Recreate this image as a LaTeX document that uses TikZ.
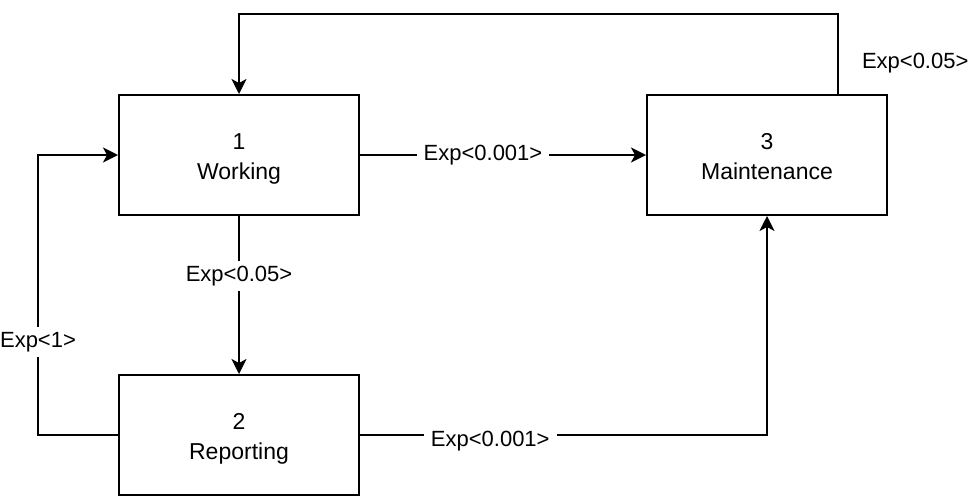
\documentclass[tikz,border=0pt]{standalone}
\usepackage{fontspec}
\setmainfont{Liberation Sans}
\usetikzlibrary{positioning}
\usetikzlibrary{arrows.meta}

\tikzset{
  state/.style={draw, line width=2pt, minimum width=240pt, minimum height=120pt,
    align=center, font=\fontsize{23}{30}\selectfont,
    execute at begin node={\rule{0pt}{57pt}},
    execute at end node={\rule[-9pt]{0pt}{0pt}}},
  flow/.style={line width=2pt, -{Stealth[length=15pt, width=15pt, inset=4pt]}},
  rate/.style={fill=white, inner xsep=7pt, inner ysep=5pt, font=\fontsize{22}{26}\selectfont}
}

\begin{document}
\begin{tikzpicture}[x=1pt, y=-1pt]
%\draw[help lines] (0,0) grid (980,496);
\useasboundingbox (0,0) rectangle (980,496);

\node [state] (work) at (239,155) {1\\Working};
\node [state] (maint) at (767,155) {3\\Maintenance};
\node [state] (rep) at (239,435) {2\\Reporting};

\draw [flow] (work) -- node [rate, pos=0.43] {Exp<0.001>} (maint);
\draw [flow] ([xshift=71pt]maint.north) -- ++(0,-80)
  node [pos=0.39, right=16pt, rate, fill=none] {Exp<0.05>} -| (work.north);
\draw [flow] (work) -- node [rate, pos=0.38] {Exp<0.05>} (rep);
\draw [flow] (rep.west) -- ++(-80,0) |- node [rate, pos=0.166] {Exp<1>} (work.west);
\draw [flow] (rep.east) -| node [rate, pos=0.16, yshift=-6pt] {Exp<0.001>} (maint.south);

\end{tikzpicture}
\end{document}
